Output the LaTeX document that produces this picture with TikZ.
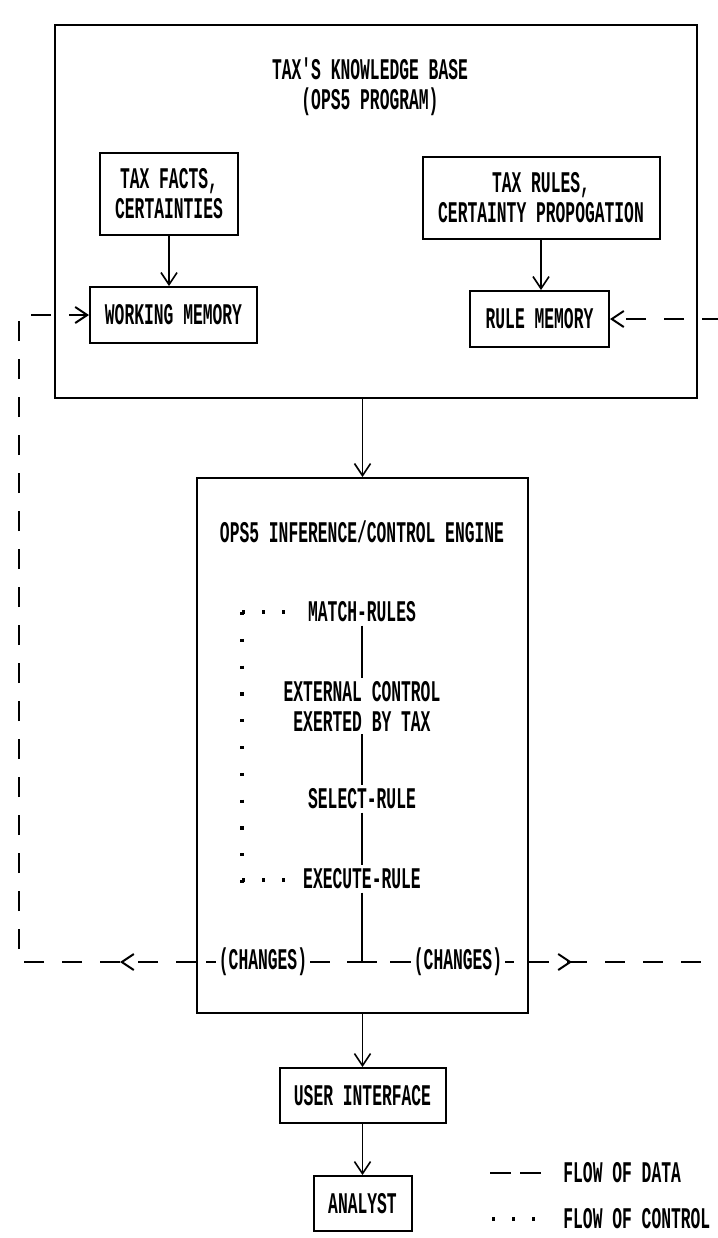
\documentclass[tikz,border=0pt]{standalone}
\usepackage{fontspec}
\setmainfont{Liberation Mono}[FakeStretch=0.544,Ligatures=TeXOff]
\usepackage{tikz}
\usetikzlibrary{positioning,arrows.meta,calc,decorations.markings}

\begin{document}
\begin{tikzpicture}[x=0.5pt,y=-0.5pt,
  every node/.style={font=\fontsize{15}{15}\selectfont\bfseries,align=center},
  box/.style={draw,line width=1pt,inner sep=0pt},
  lbl/.style={inner sep=1.5pt},
  arr/.style={-{Straight Barb[length=6pt,width=8pt]},line width=0.8pt},
  dataflow/.style={line width=1pt,dash pattern=on 10pt off 9pt},
  ctrl/.style={line width=1.6pt,dash pattern=on 1.6pt off 8.4pt},
  midarrow/.style={postaction=decorate,decoration={markings,
      mark=at position #1 with {\arrow{Straight Barb[length=6pt,width=8pt]}}}},
]
\useasboundingbox (0,0) rectangle (718,1238);
\clip (0,0) rectangle (718,1238);

\node[box,minimum width=321pt,minimum height=186.5pt] (kb) at (376,211.5) {};
\node[lbl] (kbtitle) at (370,87) {TAX'S KNOWLEDGE BASE\\(OPS5 PROGRAM)};
\node[box,minimum width=69pt,minimum height=41pt] (facts) at (169,194) {TAX FACTS,\\CERTAINTIES};
\node[box,minimum width=118.5pt,minimum height=41pt] (rules) at (541,198) {TAX RULES,\\CERTAINTY PROPOGATION};
\node[box,minimum width=83.5pt,minimum height=28pt] (wm) at (173.5,315) {WORKING MEMORY};
\node[box,minimum width=69.5pt,minimum height=28pt] (rm) at (539.5,319) {RULE MEMORY};

\node[box,minimum width=165.5pt,minimum height=267.5pt] (engine) at (362.5,745.5) {};
\node[lbl] (engtitle) at (362,532) {OPS5 INFERENCE/CONTROL ENGINE};
\node[lbl] (match) at (362,612) {MATCH-RULES};
\node[lbl] (ext) at (362,706) {EXTERNAL CONTROL\\EXERTED BY TAX};
\node[lbl] (select) at (362,799) {SELECT-RULE};
\node[lbl] (execute) at (362,879) {EXECUTE-RULE};
\coordinate (tee) at (362,962);
\node[lbl] (chl) at (263,962) {(CHANGES)};
\node[lbl] (chr) at (458,962) {(CHANGES)};

\node[box,minimum width=83pt,minimum height=27.5pt,below=26.5pt of engine] (ui) {USER INTERFACE};
\node[box,minimum width=49pt,minimum height=27.5pt,below=25.5pt of ui] (analyst) {ANALYST};

\node[lbl,anchor=west] (legdata) at (560,1173) {FLOW OF DATA};
\node[lbl,anchor=west] (legctrl) at (560,1219) {FLOW OF CONTROL};

\draw[arr] (facts.south) -- (facts.south |- wm.north);
\draw[arr] (rules.south) -- (rules.south |- rm.north);
\draw[arr] (engine.north |- kb.south) -- (engine.north);
\draw[arr] (engine.south) -- (ui.north);
\draw[arr] (ui.south) -- (analyst.north);

\draw[line width=0.8pt] (match.south) -- (ext.north) (ext.south) -- (select.north)
  (select.south) -- (execute.north) (execute.south) -- (tee);
\draw[line width=0.8pt] ([xshift=-7.5pt]tee) -- ([xshift=7.5pt]tee);
\draw[line width=0.8pt] (chl.west) -- ++(-10,0) (chl.east) -- ++(20,0);
\draw[line width=0.8pt] (chr.west) -- ++(-21,0) (chr.east) -- ++(9,0);

\coordinate (ctop) at (242,612);
\coordinate (cbot) at (242,880);
\draw[ctrl] (ctop) -- ++(43,0);
\draw[ctrl] (cbot) -- ++(43,0);
\draw[ctrl,dash pattern=on 1.6pt off 11.8pt] (ctop) -- ($(cbot)+(0,3.2)$);

\draw[dataflow,midarrow=38pt,-{Straight Barb[length=6pt,width=8pt]}]
  (engine.west |- chl) -| ([xshift=-35pt]wm.west) -- (wm.west);
\draw[dataflow,midarrow=21.5pt,-{Straight Barb[length=6pt,width=8pt]}]
  (engine.east |- chr) -| ([xshift=75pt]rm.east) -- (rm.east);

\draw[dataflow,dash pattern=on 10.5pt off 4.5pt] ([xshift=-35pt]legdata.west) -- ++(51,0);
\draw[ctrl] ([xshift=-34pt]legctrl.west) -- ++(43,0);
\end{tikzpicture}
\end{document}
